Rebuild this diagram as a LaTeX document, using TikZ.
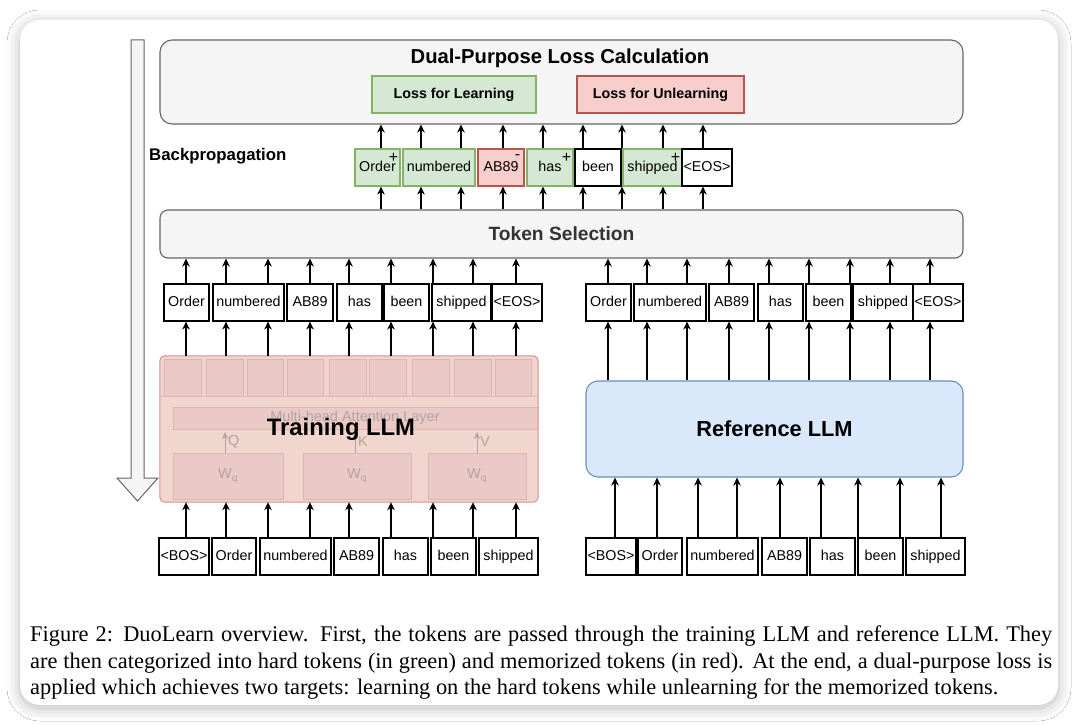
\documentclass[tikz,border=0pt]{standalone}
\usepackage{fontspec}
\setmainfont{Liberation Serif}
\setsansfont{Liberation Sans}
\usetikzlibrary{arrows.meta,positioning,shadows.blur}
\definecolor{dlgrayf}{HTML}{F5F5F5}
\definecolor{dlgrayd}{HTML}{666666}
\definecolor{dlgreenf}{HTML}{D5E8D4}
\definecolor{dlgreend}{HTML}{82B366}
\definecolor{dlredf}{HTML}{F8CECC}
\definecolor{dlredd}{HTML}{B85450}
\definecolor{dlbluef}{HTML}{DAE8FC}
\definecolor{dlblued}{HTML}{6C8EBF}
\definecolor{dlpeach}{HTML}{F1D6CE}
\definecolor{dlpink}{HTML}{F0D2D0}
\definecolor{dlcell}{HTML}{EBC9C7}
\definecolor{dlcelld}{HTML}{DDB6B3}
\definecolor{dlfaint}{HTML}{B3A3A1}
\definecolor{dlrim}{HTML}{D4938C}
\definecolor{dlseam}{HTML}{EDC3A6}
\newcommand\dlfont[1]{\sffamily\fontsize{#1}{#1}\selectfont}
\tikzset{
  tok/.style={draw=black,fill=white,line width=1.2pt,inner sep=0pt,minimum height=37pt,font=\dlfont{14.3},text height=10.5pt,text depth=3pt},
  tokg/.style={tok,fill=dlgreenf,draw=dlgreend},
  tokr/.style={tok,fill=dlredf,draw=dlredd},
  tokw/.style={tok},
  mk/.style={font=\dlfont{16},inner sep=0pt},
  graybox/.style={draw=dlgrayd,fill=dlgrayf,line width=1.1pt,rounded corners=12pt,inner sep=0pt},
  lossbox/.style={line width=1.1pt,inner sep=0pt,minimum height=37pt,font=\bfseries\dlfont{14.3}},
  faint/.style={font=\dlfont{14.5},text=dlfaint,inner sep=0pt},
  cell/.style={fill=dlcell,draw=dlcelld,line width=0.8pt},
  ar/.style={-{Stealth[length=8pt,width=7.5pt,inset=2.5pt]},line width=1.2pt,draw=black},
  captext/.style={font=\rmfamily\fontsize{22.4}{27}\selectfont,inner sep=0pt},
}
\begin{document}
\begin{tikzpicture}[x=1pt,y=-1pt]
  \useasboundingbox (0,0) rectangle (1080,725);
  \fill[white] (0,0) rectangle (1080,725);
  \fill[white,rounded corners=20pt,blur shadow={shadow xshift=0pt,shadow yshift=-3pt,shadow blur radius=13pt,shadow opacity=28}] (20,20) rectangle (1058,705);
  % backpropagation arrow
  \draw[dlgrayd,fill=dlgrayf,line width=1pt] (131,40) -- (144,40) -- (144,478) -- (158,478) -- (137.5,501) -- (117,478) -- (131,478) -- cycle;
  \node[anchor=west,font=\bfseries\dlfont{16.8},inner sep=0pt] (bp) at (149,156) {Backpropagation};
  % loss calculation
  \node[graybox,minimum width=803pt,minimum height=84pt] (dpl) at (561.5,82) {};
  \node[font=\bfseries\dlfont{20.2},inner sep=0pt] (dpltxt) at (560,58) {Dual-Purpose Loss Calculation};
  \node[lossbox,fill=dlgreenf,draw=dlgreend,minimum width=164pt] (lrn) at (454,94.5) {Loss for Learning};
  \node[lossbox,fill=dlredf,draw=dlredd,minimum width=167pt] (unl) at (660.5,94.5) {Loss for Unlearning};
  % selected tokens
  \foreach \l/\r/\t/\s [count=\i] in {355/400/Order/tokg,403/475/numbered/tokg,478/524/AB89/tokr,527/573/has/tokg,575/621/been/tokw,623/682/shipped/tokg,682/732/<EOS>/tokw}
    \node[\s,minimum width={(\r-\l)*1pt}] (s\i) at ({(\l+\r)/2},167.5) {\t};
  \foreach \i/\m in {1/+,3/-,4/+,6/+}
    \node[mk] at ([shift={(-7pt,-9pt)}]s\i.north east) {\m};
  \node[graybox,rounded corners=8pt,minimum width=803pt,minimum height=48pt,font=\bfseries\dlfont{19.2},text=black!80] (ts) at (561.5,234) {Token Selection};
  % token rows
  \foreach \l/\r/\t [count=\i] in {164/209/Order,213/284/numbered,287/333/AB89,337/382/has,384/429/been,432/491/shipped,492/542/<EOS>}
    \node[tok,minimum width={(\r-\l)*1pt}] (tl\i) at ({(\l+\r)/2},302.5) {\t};
  \foreach \l/\r/\t [count=\i] in {159/209/<BOS>,212/256/Order,260/331/numbered,334/379/AB89,383/428/has,431/476/been,479/538/shipped}
    \node[tok,minimum width={(\r-\l)*1pt}] (bl\i) at ({(\l+\r)/2},556.5) {\t};
  \foreach \l/\r/\t [count=\i] in {586/631/Order,634/706/numbered,709/754/AB89,758/803/has,806/851/been,853/913/shipped,913/963/<EOS>}
    \node[tok,minimum width={(\r-\l)*1pt}] (tr\i) at ({(\l+\r)/2},302.5) {\t};
  \foreach \l/\r/\t [count=\i] in {586/636/<BOS>,638/682/Order,687/758/numbered,762/807/AB89,810/855/has,858/903/been,906/965/shipped}
    \node[tok,minimum width={(\r-\l)*1pt}] (br\i) at ({(\l+\r)/2},556.5) {\t};
  % training LLM
  \node[fill=dlpeach,draw=none,rounded corners=5pt,minimum width=378pt,minimum height=146pt] (trn) at (349,429) {};
  \begin{scope}
    \clip[rounded corners=5pt] (trn.north west) rectangle (trn.south east);
    \fill[dlpink] (160,356) rectangle (538,396);
    \draw[dlseam,line width=0.8pt] (160,396) -- (538,396);
    \foreach \l/\r in {164/201,206/243,247/283,287/323,329/366,369/406,412/449,454/491,495/531}
      \draw[cell] (\l,359) rectangle (\r,396);
    \draw[cell] (173,407) rectangle (540,429);
    \node[faint] (mha) at (355,418) {Multi-head Attention Layer};
    \foreach \l/\r [count=\i] in {173/283,303/411,428/526}
      \draw[cell] (\l,453) rectangle (\r,499) node[faint,midway] (w\i) {W\textsubscript{q}};
    \foreach \x/\q in {225/Q,355/K,477/V}{
      \draw[-{Stealth[length=7pt,width=6pt,inset=2pt]},dlfaint,line width=1pt] (\x,453) -- (\x,432);
      \node[faint,anchor=west] at (\x+3,442) {\q};}
  \end{scope}
  \draw[dlrim,line width=1pt,rounded corners=5pt] (trn.north west) rectangle (trn.south east);
  \node[font=\bfseries\dlfont{23.8},inner sep=0pt] (trnlbl) at (341,429) {Training LLM};
  % reference LLM
  \node[fill=dlbluef,draw=dlblued,line width=1.1pt,rounded corners=12pt,minimum width=377pt,minimum height=96pt,font=\bfseries\dlfont{21.8}] (ref) at (774.5,429) {Reference LLM};
  % arrows
  \foreach \x in {381,421,461,503,543,583,622,663,703}{
    \draw[ar] (\x,0 |- ts.north) -- (\x,0 |- s1.south);
    \draw[ar] (\x,0 |- s1.north) -- (\x,0 |- dpl.south);}
  \foreach \x in {186,226,268,310,349,391,433,473,516}{
    \draw[ar] (\x,0 |- bl1.north) -- (\x,0 |- trn.south);
    \draw[ar] (\x,0 |- trn.north) -- (\x,0 |- tl1.south);
    \draw[ar] (\x,0 |- tl1.north) -- (\x,0 |- ts.south);}
  \foreach \x in {608,647,687,729,769,809,850,890,930}{
    \draw[ar] (\x,0 |- ref.north) -- (\x,0 |- tr1.south);
    \draw[ar] (\x,0 |- tr1.north) -- (\x,0 |- ts.south);}
  \foreach \x in {615,657,698,737,780,821,858,900,941}
    \draw[ar] (\x,0 |- br1.north) -- (\x,0 |- ref.south);
  % caption
  \node[captext,anchor=base west] (cap1) at (30,641) {\makebox[1022pt][s]{Figure 2: DuoLearn overview. First, the tokens are passed through the training LLM and reference LLM. They}};
  \node[captext,anchor=base west] (cap2) at (30,668) {\makebox[1022pt][s]{are then categorized into hard tokens (in green) and memorized tokens (in red). At the end, a dual-purpose loss is}};
  \node[captext,anchor=base west] (cap3) at (30,694) {applied which achieves two targets: learning on the hard tokens while unlearning for the memorized tokens.};
\end{tikzpicture}
\end{document}
